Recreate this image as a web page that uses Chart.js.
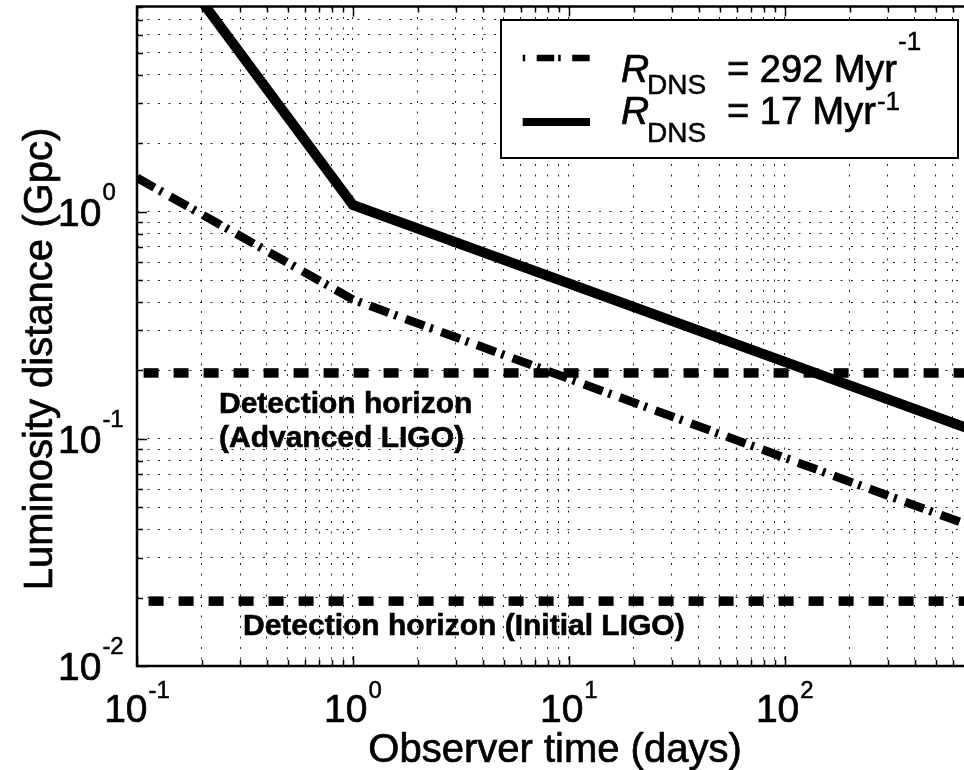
<!DOCTYPE html>
<html>
<head>
<meta charset="utf-8">
<script src="https://cdn.jsdelivr.net/npm/chart.js@4.4.1/dist/chart.umd.min.js"></script>
<style>
html,body{margin:0;padding:0;overflow:hidden;background:#fff;width:964px;height:770px}
canvas{display:block}
</style>
</head>
<body>
<canvas id="c" width="1010" height="770"></canvas>
<script>
// ---------------- data ----------------
const timeDays = [0.1, 1, 1000];
const distHighRate = [1.41, 0.41, 0.037];     // R_DNS = 292 Myr^-1 (dash-dot)
const distLowRate = [20.4, 1.07, 0.0985];     // R_DNS = 17 Myr^-1 (solid)
const horizonTimes = [0.1, 1000];
const horizonAdvanced = [0.195, 0.195];
const horizonInitial = [0.0193, 0.0193];

const xTickValues = [0.1, 1, 10, 100];
const xTickExponents = ['-1', '0', '1', '2'];
const yTickValues = [0.01, 0.1, 1];
const yTickExponents = ['-2', '-1', '0'];

const seriesSymbols = ['R', 'R'];
const seriesSubscripts = ['DNS', 'DNS'];
const seriesTexts = ['= 292 Myr', '= 17 Myr'];
const seriesSuperscripts = ['-1', '-1'];

const xTitle = 'Observer time (days)';
const yTitle = 'Luminosity distance (Gpc)';
const advancedLabel = ['Detection horizon', '(Advanced LIGO)'];
const initialLabel = ['Detection horizon (Initial LIGO)'];

// ---------------- helpers ----------------
const FONT = '"Liberation Sans", Arial, Helvetica, sans-serif';
function pts(xs, ys) { return xs.map((x, i) => ({x: x, y: ys[i]})); }
function logTicks(scale, e0, e1) {
  const out = [];
  for (let e = e0; e <= e1; e++) {
    for (let m = 1; m <= 9; m++) {
      const v = +(m * Math.pow(10, e)).toPrecision(6);
      if (v >= scale.min - 1e-12 && v <= scale.max + 1e-12) out.push({value: v, major: m === 1});
    }
  }
  scale.ticks = out;
}
function txt(ctx, s, x, y, heavy) {
  ctx.fillText(s, x, y);
  if (heavy) { ctx.lineWidth = heavy; ctx.strokeText(s, x, y); }
}
function drawPow(ctx, base, exp, x, y, centered, raise) {
  ctx.font = '39px ' + FONT;
  const wb = ctx.measureText(base).width;
  ctx.font = '24px ' + FONT;
  const we = ctx.measureText(exp).width;
  const x0 = centered ? x - (wb + we + 1) / 2 : x;
  ctx.textAlign = 'left';
  ctx.textBaseline = 'alphabetic';
  ctx.font = '39px ' + FONT;
  txt(ctx, base, x0, y, 0.7);
  ctx.font = '24px ' + FONT;
  txt(ctx, exp, x0 + wb + 1, y - raise, 0.5);
}
function seg(ctx, x1, y1, x2, y2) { ctx.beginPath(); ctx.moveTo(x1, y1); ctx.lineTo(x2, y2); ctx.stroke(); }

const decor = {
  id: 'decor',
  afterDatasetsDraw(chart) {
    const ctx = chart.ctx;
    ctx.save();
    ctx.fillStyle = '#000';
    ctx.strokeStyle = '#000';
    ctx.textAlign = 'left';
    ctx.textBaseline = 'alphabetic';
    ctx.font = 'bold 30px ' + FONT;
    txt(ctx, advancedLabel[0], 219, 413, 0.6);
    txt(ctx, advancedLabel[1], 219, 447, 0.6);
    txt(ctx, initialLabel[0], 243, 635, 0.6);
    ctx.restore();
  },
  afterDraw(chart) {
    const ctx = chart.ctx, a = chart.chartArea, xs = chart.scales.x, ys = chart.scales.y;
    ctx.save();
    ctx.strokeStyle = '#000';
    ctx.fillStyle = '#000';
    // inner ticks
    ctx.lineWidth = 1.5;
    xs.ticks.forEach(t => {
      const px = Math.round(xs.getPixelForValue(t.value)) + 0.5;
      const len = t.major ? 10 : 6;
      seg(ctx, px, a.bottom, px, a.bottom - len);
      seg(ctx, px, a.top, px, a.top + len);
    });
    ys.ticks.forEach(t => {
      const py = Math.round(ys.getPixelForValue(t.value)) + 0.5;
      const len = t.major ? 10 : 6;
      seg(ctx, a.left, py, a.left + len, py);
      seg(ctx, a.right, py, a.right - len, py);
    });
    // frame
    ctx.lineWidth = 2.5;
    ctx.strokeRect(a.left, a.top, a.right - a.left, a.bottom - a.top);

    // tick labels
    xTickValues.forEach((v, i) => {
      drawPow(ctx, '10', xTickExponents[i], xs.getPixelForValue(v), 722, true, 24);
    });
    yTickValues.forEach((v, i) => {
      drawPow(ctx, '10', yTickExponents[i], 58, ys.getPixelForValue(v) + 14, false, 26);
    });

    // axis titles
    ctx.font = '40px ' + FONT;
    ctx.textAlign = 'center';
    txt(ctx, xTitle, 555, 762, 0.7);
    ctx.save();
    ctx.translate(52, 359);
    ctx.rotate(-Math.PI / 2);
    txt(ctx, yTitle, 0, 0, 0.7);
    ctx.restore();

    // legend box
    ctx.fillStyle = '#fff';
    ctx.fillRect(501, 20, 457, 138);
    ctx.lineWidth = 2;
    ctx.strokeStyle = '#000';
    ctx.strokeRect(501, 20, 457, 138);
    // samples
    ctx.save();
    ctx.beginPath(); ctx.rect(522, 40, 68, 100); ctx.clip();
    ctx.lineCap = 'butt';
    ctx.lineWidth = 6.5;
    ctx.setLineDash([2.5, 11.5, 17.5, 4]);
    seg(ctx, 522.7, 58, 590, 58);
    ctx.setLineDash([]);
    ctx.lineWidth = 8;
    seg(ctx, 522.7, 122, 590, 122);
    ctx.restore();
    // legend text
    ctx.fillStyle = '#000';
    ctx.textAlign = 'left';
    const rows = [{base: 81.7, sub: 94, sup: 50}, {base: 124.3, sub: 141.7, sup: 110}];
    rows.forEach((r, i) => {
      ctx.font = 'italic 39px ' + FONT;
      txt(ctx, seriesSymbols[i], 621, r.base, 0.7);
      ctx.font = '28px ' + FONT;
      txt(ctx, seriesSubscripts[i], 647, r.sub, 0.5);
      ctx.font = '38px ' + FONT;
      txt(ctx, seriesTexts[i], 727, r.base, 0.7);
      const w = ctx.measureText(seriesTexts[i]).width;
      ctx.font = '26px ' + FONT;
      txt(ctx, seriesSuperscripts[i], 727 + w + 1, r.sup, 0.5);
    });
    ctx.restore();
  }
};

const gridOpts = {display: true, color: 'rgba(0,0,0,0.85)', lineWidth: 1, drawTicks: false};

new Chart(document.getElementById('c'), {
  type: 'line',
  data: {
    datasets: [
      {label: 'Advanced LIGO horizon', data: pts(horizonTimes, horizonAdvanced), borderColor: '#000',
       borderWidth: 9.5, borderDash: [15, 15], borderDashOffset: 23.4, pointRadius: 0, fill: false,
       borderCapStyle: 'butt', clip: 0},
      {label: 'Initial LIGO horizon', data: pts(horizonTimes, horizonInitial), borderColor: '#000',
       borderWidth: 9.5, borderDash: [15, 15], borderDashOffset: 18.4, pointRadius: 0, fill: false,
       borderCapStyle: 'butt', clip: 0},
      {label: 'R_DNS = 292 Myr^-1', data: pts(timeDays, distHighRate), borderColor: '#000',
       borderWidth: 8.5, borderDash: [20, 6, 3, 9], pointRadius: 0, fill: false,
       borderCapStyle: 'butt', borderJoinStyle: 'miter', clip: 0},
      {label: 'R_DNS = 17 Myr^-1', data: pts(timeDays, distLowRate), borderColor: '#000',
       borderWidth: 10, pointRadius: 0, fill: false,
       borderCapStyle: 'butt', borderJoinStyle: 'miter', clip: 0}
    ]
  },
  options: {
    responsive: false,
    animation: false,
    devicePixelRatio: 1,
    layout: {padding: {left: 137, top: 6.5, right: 9.3, bottom: 104}},
    plugins: {legend: {display: false}, tooltip: {enabled: false}, title: {display: false}},
    scales: {
      x: {
        type: 'logarithmic', min: 0.1, max: 1000, position: 'bottom',
        afterBuildTicks: s => logTicks(s, -1, 3),
        afterFit: s => { s.height = 0; },
        ticks: {display: false, autoSkip: false},
        grid: gridOpts,
        border: {display: false, dash: [2, 8.5]}
      },
      y: {
        type: 'logarithmic', min: 0.01, max: 8, position: 'left',
        afterBuildTicks: s => logTicks(s, -2, 0),
        afterFit: s => { s.width = 0; },
        ticks: {display: false, autoSkip: false},
        grid: gridOpts,
        border: {display: false, dash: [2, 8.5]}
      }
    }
  },
  plugins: [decor]
});
</script>
</body>
</html>
